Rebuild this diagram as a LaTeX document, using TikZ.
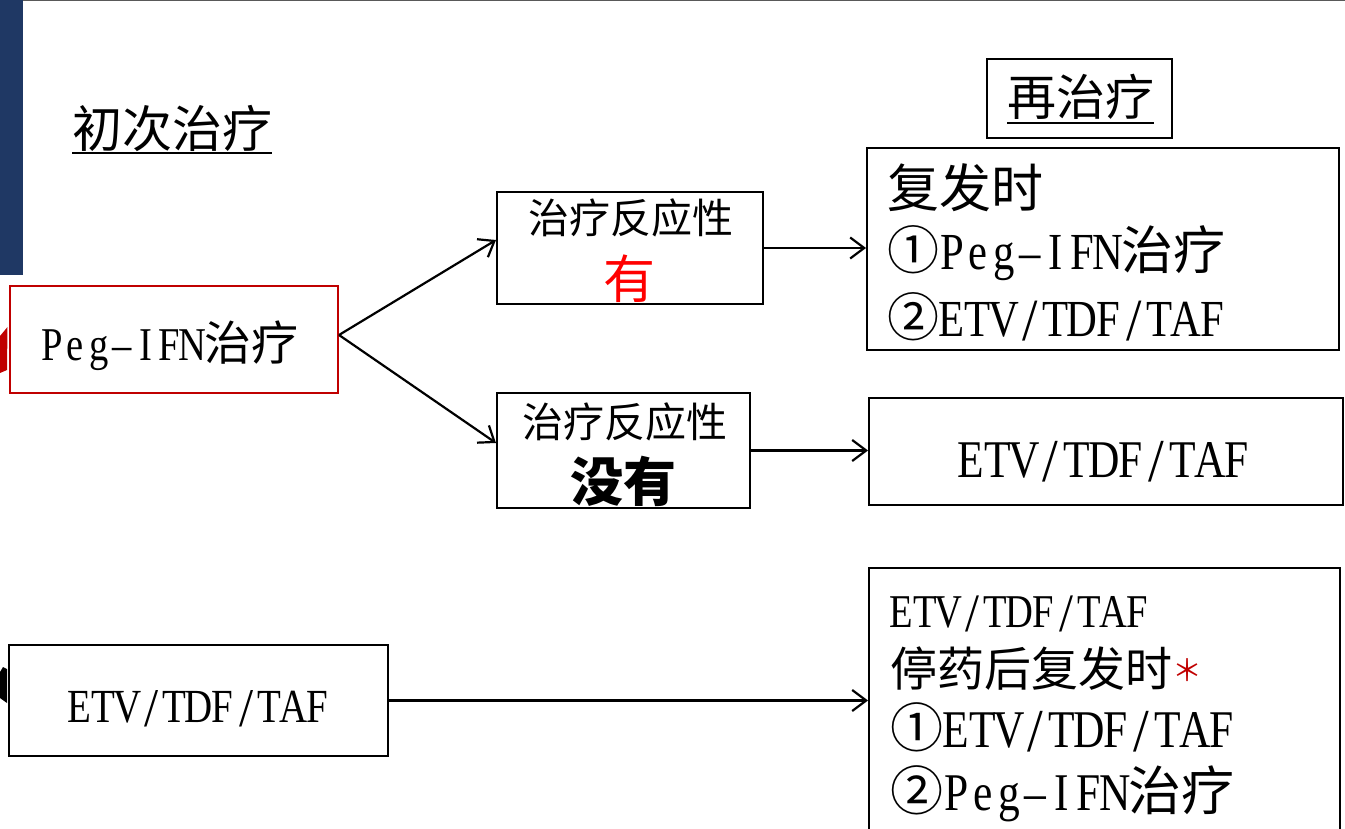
\documentclass[tikz,border=0pt]{standalone}
\usepackage{fontspec}
\usepackage{graphicx}
\setmainfont{Liberation Serif}[FakeStretch=0.82]
\newfontfamily\cjk{Noto Sans CJK SC}
\usetikzlibrary{arrows.meta}
\definecolor{barblue}{RGB}{31,56,100}
\definecolor{dred}{RGB}{192,0,0}
\definecolor{bred}{RGB}{255,0,0}
\ExplSyntaxOn
\NewDocumentCommand\hw{m}{\tl_map_inline:nn{#1}{\makebox[0.5em]{##1}}}
\ExplSyntaxOff
\newcommand\lat[1]{{\rmfamily\hw{#1}}}
\newcommand\slh{\raisebox{-0.09em}{\scalebox{1.3}[1.15]{/}}}
\newcommand\fsz[1]{\fontsize{#1pt}{#1pt}\selectfont}
\tikzset{
  box/.style={draw=black, line width=2pt, rectangle, inner sep=0pt},
  txt/.style={anchor=base west, inner sep=0pt, outer sep=0pt, font=\cjk},
  arr/.style={line width=2.2pt, -{Straight Barb[length=14pt,width=21pt,line width=2.2pt]}},
  uline/.style={line width=2pt}
}
\begin{document}
\begin{tikzpicture}[x=1pt,y=-1pt]
\useasboundingbox (0,0) rectangle (1345,829);
\clip (0,0) rectangle (1345,829);
% decorations at the left edge and top
\fill[barblue] (0,0) rectangle (22.5,275);
\draw[black!65, line width=1.5pt] (22.5,0.75) -- (1345,0.75);
\fill[dred] (0,336) -- (7.5,327) -- (7,370) -- (0,373) -- cycle;
\fill[black] (0,672) -- (3,667) -- (7,669) -- (7,703) -- (0,698) -- cycle;

% titles
\node[txt] (t0) at (72,148) {\fsz{50}初次治疗};
\draw[uline] ([yshift=-5pt]t0.base west) -- ([yshift=-5pt]t0.base east);
\node[box, minimum width=185pt, minimum height=79pt] (r0) at (1079.5,98.5) {};
\node[txt] (t1) at (1007,116) {\fsz{49}再治疗};
\draw[uline] ([yshift=-7pt]t1.base west) -- ([yshift=-7pt]t1.base east);

% boxes
\node[box, draw=dred, minimum width=328pt, minimum height=107pt] (b1) at (174,339.5) {};
\node[txt] (b1t) at (40,360) {\fsz{47}\lat{Peg–IFN}治疗};

\node[box, minimum width=266pt, minimum height=112pt] (b2) at (630,248) {};
\node[txt] (b2t) at (528,234) {\fsz{41}治疗反应性};
\node[txt, text=bred] (b2y) at (603,299) {\fsz{52}有};

\node[box, minimum width=253pt, minimum height=115pt] (b3) at (623.5,450.5) {};
\node[txt] (b3t) at (522,437) {\fsz{41}治疗反应性};
\node[txt] (b3y) at (570,501) {\fsz{53}\bfseries 没有};

\node[box, minimum width=472pt, minimum height=202pt] (b4) at (1103,249) {};
\node[txt] (b4a) at (887,208) {\fsz{52}复发时};
\node[txt] (b4b) at (887,270) {\fsz{52}①\lat{Peg–IFN}治疗};
\node[txt] (b4c) at (887,336) {\fsz{52}②\lat{ETV\slh TDF\slh TAF}};

\node[box, minimum width=474pt, minimum height=107pt] (b5) at (1106,451.5) {};
\node[txt] (b5t) at (958,477) {\fsz{53}\lat{ETV\slh TDF\slh TAF}};

\node[box, minimum width=379pt, minimum height=111pt] (b6) at (198.5,700.5) {};
\node[txt] (b6t) at (68,722) {\fsz{47.5}\lat{ETV\slh TDF\slh TAF}};

\node[box, minimum width=471pt, minimum height=292pt] (b7) at (1104.5,714) {};
\node[txt] (b7a) at (890,627) {\fsz{47}\lat{ETV\slh TDF\slh TAF}};
\node[txt] (b7b) at (890,686) {\fsz{47}停药后复发时\textcolor{dred}{\raisebox{5pt}{\fsz{30}＊}}};
\node[txt] (b7c) at (890,747) {\fsz{53}①\lat{ETV\slh TDF\slh TAF}};
\node[txt] (b7d) at (890,810) {\fsz{53}②\lat{Peg–IFN}治疗};

% connectors
\draw[arr] ([yshift=4.5pt]b1.east) -- ([yshift=8pt]b2.west);
\draw[arr] ([yshift=4.5pt]b1.east) -- ([yshift=7.5pt]b3.west);
\draw[arr] (b2.east) -- (b2.east -| b4.west);
\draw[arr] (b3.east) -- (b3.east -| b5.west);
\draw[arr] (b6.east) -- (b6.east -| b7.west);
\end{tikzpicture}
\end{document}
